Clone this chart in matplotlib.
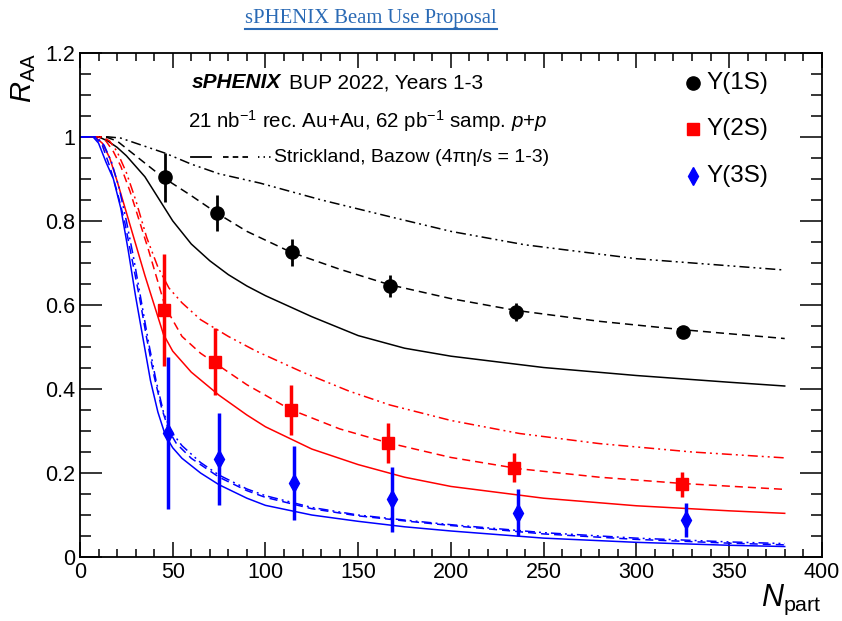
import numpy as np
import matplotlib.pyplot as plt
from matplotlib.ticker import MultipleLocator, FuncFormatter
from matplotlib.lines import Line2D

plt.rcParams['font.family'] = ['Liberation Sans', 'DejaVu Sans']
plt.rcParams['mathtext.fontset'] = 'custom'
plt.rcParams['mathtext.rm'] = 'Liberation Sans'
plt.rcParams['mathtext.it'] = 'Liberation Sans:italic'
plt.rcParams['mathtext.bf'] = 'Liberation Sans:bold'
plt.rcParams['lines.scale_dashes'] = False

# projected points (Npart, RAA, error)
npart_1s = [46, 74, 114.5, 167, 235, 325]
raa_1s = [0.904, 0.818, 0.725, 0.645, 0.583, 0.536]
err_1s = [0.058, 0.043, 0.033, 0.025, 0.022, 0.015]

npart_2s = [45.3, 73, 113.6, 166, 234, 324.5]
raa_2s = [0.588, 0.465, 0.35, 0.271, 0.213, 0.173]
err_2s = [0.133, 0.08, 0.06, 0.047, 0.035, 0.029]

npart_3s = [47.3, 75, 115.5, 168.4, 236, 327]
raa_3s = [0.295, 0.233, 0.177, 0.137, 0.105, 0.088]
err_3s = [0.18, 0.11, 0.088, 0.078, 0.056, 0.04]

# Strickland, Bazow curves: a = 4pi eta/s 1 (solid), b = 2 (dashed), c = 3 (dash-dot-dot)
x_1s_a = [0, 10, 15, 20, 25, 30, 35, 40, 45, 50, 60, 70, 80, 90, 100, 125, 150, 175, 200, 250, 300, 350, 380]
y_1s_a = [1.0, 1.0, 0.99, 0.975, 0.955, 0.93, 0.905, 0.87, 0.835, 0.80, 0.745, 0.705, 0.672, 0.645, 0.622,
          0.572, 0.527, 0.497, 0.478, 0.451, 0.432, 0.416, 0.407]
x_1s_b = [0, 10, 15, 20, 30, 40, 46, 60, 74, 90, 114, 140, 167, 200, 235, 280, 325, 380]
y_1s_b = [1.0, 1.0, 0.998, 0.99, 0.955, 0.92, 0.90, 0.86, 0.818, 0.775, 0.725, 0.685, 0.648, 0.615,
          0.587, 0.561, 0.541, 0.52]
x_1s_c = [0, 15, 22, 30, 46, 60, 75, 97, 130, 167, 200, 240, 300, 380]
y_1s_c = [1.0, 1.0, 0.997, 0.985, 0.961, 0.935, 0.912, 0.89, 0.85, 0.81, 0.775, 0.743, 0.71, 0.683]

x_2s_a = [0, 8, 12, 16, 20, 25, 30, 35, 40, 45, 50, 60, 75, 90, 100, 125, 150, 175, 200, 250, 300, 350, 380]
y_2s_a = [1.0, 1.0, 0.985, 0.95, 0.895, 0.82, 0.745, 0.67, 0.60, 0.53, 0.49, 0.44, 0.385, 0.338, 0.31,
          0.257, 0.22, 0.19, 0.168, 0.14, 0.122, 0.11, 0.104]
x_2s_b = [0, 10, 14, 18, 22, 27, 32, 37, 42, 46, 55, 65, 75, 90, 100, 113, 140, 166, 200, 237, 280, 325, 380]
y_2s_b = [1.0, 1.0, 0.99, 0.965, 0.93, 0.87, 0.80, 0.73, 0.655, 0.595, 0.525, 0.485, 0.455, 0.41, 0.385,
          0.352, 0.305, 0.272, 0.237, 0.21, 0.19, 0.175, 0.161]
x_2s_c = [0, 12, 16, 20, 25, 30, 36, 42, 48, 55, 65, 80, 95, 120, 145, 167, 200, 237, 280, 330, 380]
y_2s_c = [1.0, 1.0, 0.99, 0.965, 0.915, 0.85, 0.76, 0.69, 0.64, 0.605, 0.565, 0.525, 0.49, 0.44, 0.395,
          0.362, 0.325, 0.294, 0.27, 0.25, 0.236]

x_3s_a = [0, 7, 10, 14, 18, 22, 26, 30, 34, 38, 42, 46, 50, 55, 65, 75, 90, 100, 125, 150, 175, 200, 250,
          300, 350, 380]
y_3s_a = [1.0, 1.0, 0.985, 0.94, 0.90, 0.83, 0.73, 0.62, 0.52, 0.42, 0.345, 0.29, 0.26, 0.235, 0.2, 0.172,
          0.14, 0.123, 0.1, 0.085, 0.072, 0.062, 0.045, 0.035, 0.028, 0.025]
x_3s_b = [0, 8, 12, 16, 20, 24, 28, 32, 36, 40, 44, 48, 52, 60, 75, 90, 100, 125, 150, 175, 200, 250, 300,
          350, 380]
y_3s_b = [1.0, 1.0, 0.98, 0.93, 0.87, 0.80, 0.71, 0.62, 0.52, 0.43, 0.355, 0.30, 0.27, 0.235, 0.19, 0.158,
          0.142, 0.115, 0.098, 0.086, 0.075, 0.055, 0.042, 0.033, 0.029]
x_3s_c = [0, 9, 13, 17, 21, 25, 29, 33, 37, 41, 45, 49, 55, 65, 75, 90, 100, 125, 150, 175, 200, 250, 300,
          350, 380]
y_3s_c = [1.0, 1.0, 0.98, 0.94, 0.88, 0.80, 0.71, 0.61, 0.51, 0.42, 0.345, 0.30, 0.265, 0.225, 0.195,
          0.162, 0.146, 0.118, 0.10, 0.088, 0.077, 0.058, 0.045, 0.036, 0.032]

dash = (5.8, 3.6)
dashdotdot = (7.2, 2.9, 1.4, 2.9, 1.4, 2.9)

fig = plt.figure(figsize=(8.42, 6.21), dpi=100)
ax = fig.add_axes([0.095, 0.103, 0.881, 0.812])

curves = [
    (x_1s_a, y_1s_a, 'black', None), (x_1s_b, y_1s_b, 'black', dash), (x_1s_c, y_1s_c, 'black', dashdotdot),
    (x_2s_a, y_2s_a, 'red', None), (x_2s_b, y_2s_b, 'red', dash), (x_2s_c, y_2s_c, 'red', dashdotdot),
    (x_3s_a, y_3s_a, 'blue', None), (x_3s_b, y_3s_b, 'blue', dash), (x_3s_c, y_3s_c, 'blue', dashdotdot),
]
for xs, ys, col, ds in curves:
    ln, = ax.plot(xs, ys, color=col, lw=1.1)
    if ds is not None:
        ln.set_dashes(ds)

ax.errorbar(npart_1s, raa_1s, yerr=err_1s, fmt='o', color='black', ms=9.5, elinewidth=2, capsize=0, zorder=5)
ax.errorbar(npart_2s, raa_2s, yerr=err_2s, fmt='s', color='red', ms=9, elinewidth=2.5, capsize=0, zorder=5)
ax.errorbar(npart_3s, raa_3s, yerr=err_3s, fmt='d', color='blue', ms=9, elinewidth=2.5, capsize=0, zorder=5)

ax.set_xlim(0, 400)
ax.set_ylim(0, 1.2)
ax.xaxis.set_major_locator(MultipleLocator(50))
ax.xaxis.set_minor_locator(MultipleLocator(10))
ax.yaxis.set_major_locator(MultipleLocator(0.2))
ax.yaxis.set_minor_locator(MultipleLocator(0.05))
ax.yaxis.set_major_formatter(FuncFormatter(lambda v, p: '%g' % round(v, 2)))
ax.tick_params(which='both', direction='in', top=True, right=True, labelsize=15.5, width=1.1, color='black')
ax.tick_params(axis='y', which='major', length=16)
ax.tick_params(axis='y', which='minor', length=8)
ax.tick_params(axis='x', which='major', length=11)
ax.tick_params(axis='x', which='minor', length=5.5)
for s in ax.spines.values():
    s.set_linewidth(1.3)

ax.set_xlabel(r'$N_{\mathrm{part}}$', fontsize=22, loc='right')
ax.set_ylabel(r'$R_{\mathrm{AA}}$', fontsize=21, loc='top')
ax.xaxis.set_label_coords(1.0, -0.052)
ax.yaxis.set_label_coords(-0.057, 1.0)

tr = ax.transAxes
t1 = ax.text(0.151, 0.941, 'sPHENIX', fontsize=15, transform=tr, va='center', fontweight='bold',
             style='italic')
fig.canvas.draw()
bb = t1.get_window_extent().transformed(tr.inverted())
ax.text(bb.x1 + 0.01, 0.941, 'BUP 2022, Years 1-3', fontsize=15, transform=tr, va='center')
ax.text(0.146, 0.865, r'21 nb$^{-1}$ rec. Au+Au, 62 pb$^{-1}$ samp. $p$+$p$', fontsize=14.8, transform=tr,
        va='center')

ax.add_line(Line2D([0.150, 0.177], [0.793, 0.793], transform=tr, color='black', lw=1.3))
ax.add_line(Line2D([0.193, 0.232], [0.793, 0.793], transform=tr, color='black', lw=1.3, dashes=(4, 3)))
ax.add_line(Line2D([0.240, 0.259], [0.793, 0.793], transform=tr, color='black', lw=1.3, dashes=(1, 3)))
ax.text(0.262, 0.793, 'Strickland, Bazow (4πη/s = 1-3)', fontsize=14, transform=tr, va='center')

leg_y = [0.941, 0.848, 0.755]
leg_lab = ['Υ(1S)', 'Υ(2S)', 'Υ(3S)']
leg_mk = [('o', 'black', 9.5), ('s', 'red', 9), ('d', 'blue', 9)]
for yy, lab, (mk, col, ms) in zip(leg_y, leg_lab, leg_mk):
    ax.plot([0.826], [yy], marker=mk, color=col, ms=ms, transform=tr, clip_on=False)
    ax.text(0.845, yy, lab, fontsize=17.5, transform=tr, va='center')

# header link
fig.text(245 / 842, 1 - 18 / 621, 'sPHENIX Beam Use Proposal ', fontsize=14.9, family='Liberation Serif',
         color='#2a6ab5', ha='left', va='center')
fig.add_artist(Line2D([245 / 842, 497 / 842], [1 - 29 / 621, 1 - 29 / 621], color='#2a6ab5', lw=1.5))

fig.savefig('out.png', dpi=100)
